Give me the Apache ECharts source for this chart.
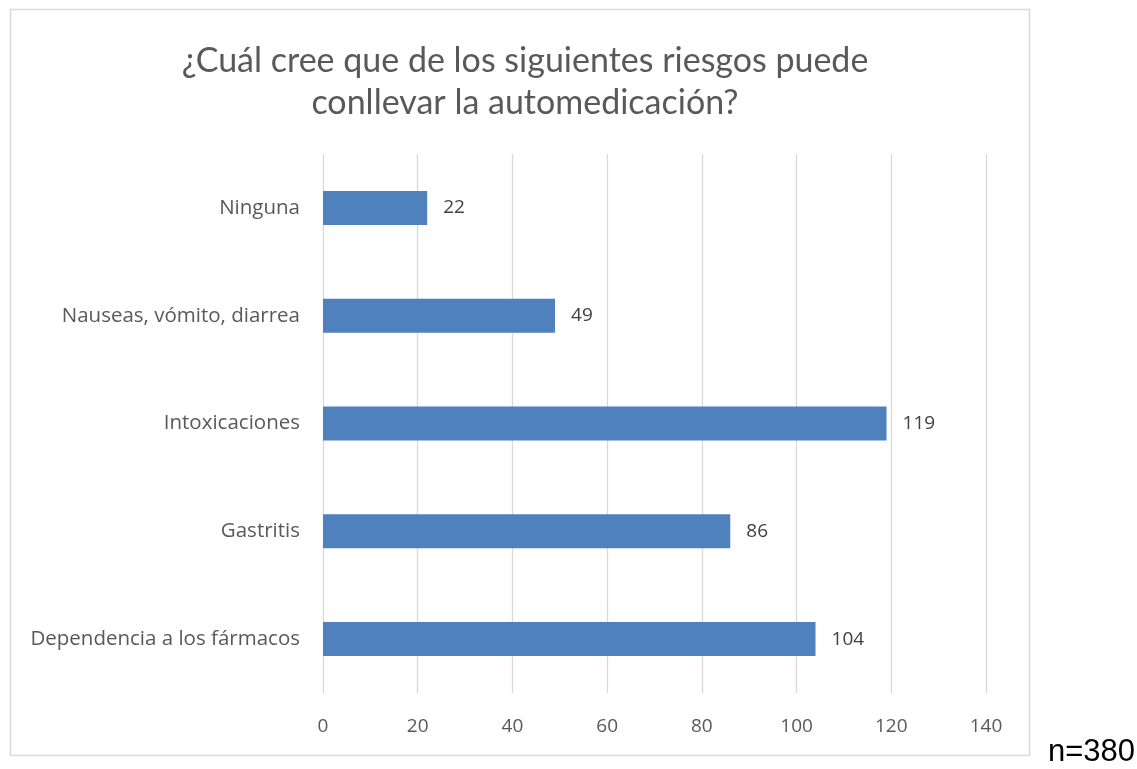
<!DOCTYPE html>
<html>
<head>
<meta charset="utf-8">
<script src="https://cdn.jsdelivr.net/npm/echarts@6/dist/echarts.min.js"></script>
<style>
  html, body { margin: 0; padding: 0; background: #fff; }
  #chart { width: 1137px; height: 769px; }
</style>
</head>
<body>
<div id="chart"></div>
<script>
// Riesgos de la automedicación — barras horizontales, n=380
const categories = ['Ninguna', 'Nauseas, vómito, diarrea', 'Intoxicaciones', 'Gastritis', 'Dependencia a los fármacos'];
const values = [22, 49, 119, 86, 104];
const xTicks = [0, 20, 40, 60, 80, 100, 120, 140];

const BAR_COLOR = '#4f81bd';
const TEXT = '#595959';
const FONT = '"Open Sans", sans-serif';

const chart = echarts.init(document.getElementById('chart'));
chart.setOption({
  animation: false,
  title: {
    text: '¿Cuál cree que de los siguientes riesgos puede\nconllevar la automedicación?',
    left: 520, top: 35, textAlign: 'center',
    textStyle: { fontFamily: 'Lato', fontWeight: 'normal', fontSize: 34, color: TEXT, lineHeight: 42 },
  },
  graphic: [
    { type: 'rect', shape: { x: 10.5, y: 9.5, width: 1019, height: 746 }, style: { fill: 'none', stroke: '#d9d9d9', lineWidth: 1.5 }, silent: true },
    { type: 'text', right: 2, bottom: 1, style: { text: 'n=380', font: '31px "Liberation Sans", Arial, sans-serif', fill: '#000' } },
  ],
  grid: { left: 323, right: 151, top: 154, bottom: 76 },
  xAxis: {
    type: 'value', min: xTicks[0], max: xTicks[xTicks.length - 1], interval: 20,
    axisLine: { show: false }, axisTick: { show: false },
    splitLine: { lineStyle: { color: '#d9d9d9', width: 1.3 } },
    axisLabel: { margin: 24, color: TEXT, fontFamily: FONT, fontSize: 19 },
  },
  yAxis: {
    type: 'category', data: categories, inverse: true,
    axisLine: { show: false }, axisTick: { show: false },
    axisLabel: { margin: 23, color: TEXT, fontFamily: FONT, fontSize: 20.5 },
  },
  series: [{
    type: 'bar', data: values, barWidth: 34,
    itemStyle: { color: BAR_COLOR },
    label: { show: true, position: 'right', distance: 16, color: '#404040', fontFamily: FONT, fontSize: 19 },
  }],
});
</script>
</body>
</html>
